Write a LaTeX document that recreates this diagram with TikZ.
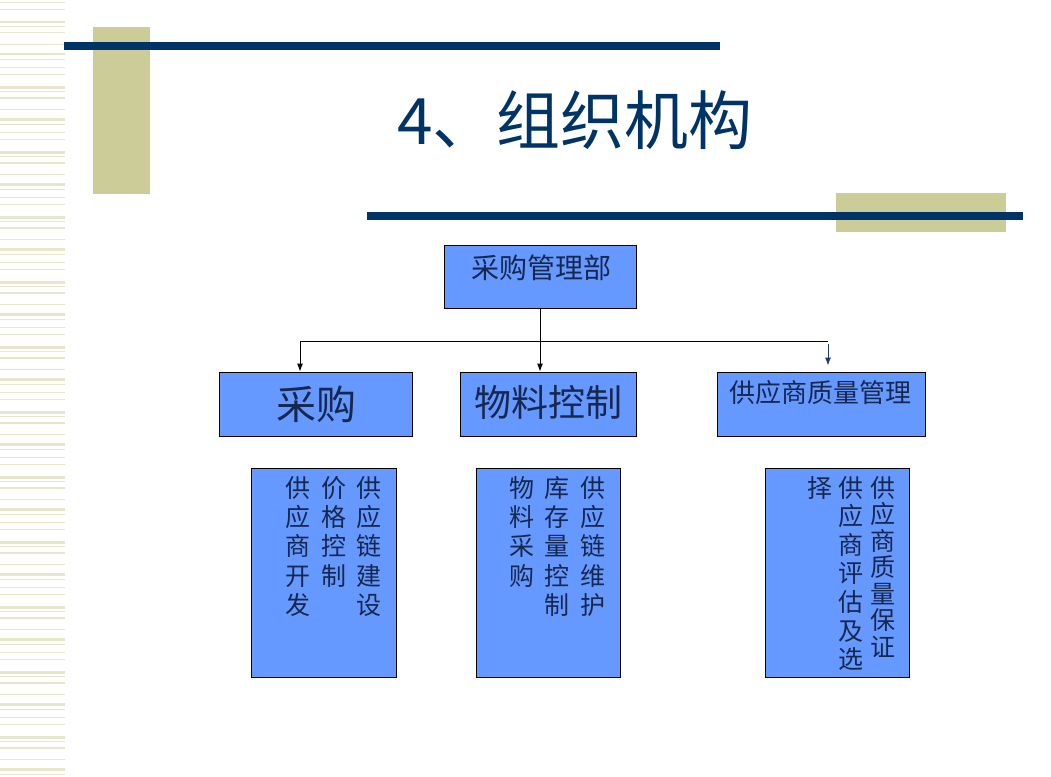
\documentclass[tikz,border=0pt]{standalone}
\usepackage{fontspec}
\usetikzlibrary{arrows.meta}
\usetikzlibrary{positioning}
\newfontfamily\cjk{Noto Sans CJK SC}
\definecolor{navy}{RGB}{0,51,102}
\definecolor{khaki}{RGB}{204,204,153}
\definecolor{stripe}{RGB}{230,230,204}
\definecolor{boxblue}{RGB}{102,153,255}
\definecolor{inkblue}{RGB}{22,40,80}
\definecolor{tipblue}{RGB}{30,60,110}
\newcommand{\cjkfont}[1]{\cjk\fontsize{#1}{#1}\selectfont}

\begin{document}
\begin{tikzpicture}[x=1pt,y=-1pt]
    \begin{scope}[>={Latex[length=8pt,width=6pt]}] %for filled arrow tips

      % defines
      \pgfmathsetmacro\SplitYCoord{(341)} % y of the branch line
      \pgfmathsetmacro\MidYCoord{(404)} % y centre of the middle boxes
      \pgfmathsetmacro\ColYCoord{(476)} % y top of the text columns

      \tikzset{
        orgbox/.style={draw=black,fill=boxblue,rectangle,line width=0.9pt,inner sep=0pt},
        boxtext/.style={text=inkblue,inner sep=0pt},
        vcol/.style={font=\cjk\fontsize{25}{29.3}\selectfont,text=inkblue,align=center,anchor=north,inner sep=0pt}
      }

      \useasboundingbox (0,0) rectangle (1051,776);

      % striped band on the left
      \foreach \blk in {0,...,11}
        \foreach \off/\w in {2/1,9/1.2,21/2.5,26/1,32/1.5,44/1,53/2.5,59/1.2}
          \fill[stripe] (0,{\blk*65+\off}) rectangle (65,{\blk*65+\off+\w});

      % title decoration
      \fill[khaki] (93,27) rectangle (150,194);
      \fill[navy] (64,42) rectangle (720,50);
      \fill[khaki] (836,193) rectangle (1006,232);
      \fill[navy] (367,212) rectangle (1023,220);
      \node (title) at (575,120) [text=navy,inner sep=0pt,font=\cjkfont{64}] {4、组织机构};

      % draw top box
      \node (top) at (540,276.5) [orgbox,minimum width=192pt,minimum height=63pt] {};
      \node (toptxt) at (541,268) [boxtext,font=\cjkfont{28}] {采购管理部};

      % draw middle boxes
      \node (cg) at (315.5,\MidYCoord) [orgbox,minimum width=193pt,minimum height=64pt] {};
      \node (cgtxt) at (316,\MidYCoord) [boxtext,font=\cjkfont{40}] {采购};
      \node (wl) at (548,\MidYCoord) [orgbox,minimum width=176pt,minimum height=64pt] {};
      \node (wltxt) at (548,402) [boxtext,font=\cjkfont{37}] {物料控制};
      \node (gy) at (821,\MidYCoord) [orgbox,minimum width=208pt,minimum height=64pt] {};
      \node (gytxt) at (820.5,393) [boxtext,font=\cjkfont{26}] {供应商质量管理};

      % connection lines
      \coordinate (split) at (540,\SplitYCoord);
      \coordinate (splitL) at (300,\SplitYCoord);
      \coordinate (splitR) at (828,\SplitYCoord);
      \coordinate (tipR) at (828,344);
      \draw[line width=0.9pt] (top.south) -- (split);
      \draw[line width=0.9pt] (splitL) -- (splitR);
      \draw[->,line width=0.9pt] (splitL) -- (splitL |- cg.north);
      \draw[->,line width=0.9pt] (split) -- (split |- wl.north);
      \draw[->,line width=0.9pt,tipblue,shorten >=6pt] (tipR) -- (tipR |- gy.north);

      % draw lower boxes
      \node (cgsub) at (323.5,572.5) [orgbox,minimum width=145pt,minimum height=209pt] {};
      \node (wlsub) at (548,572.5) [orgbox,minimum width=144pt,minimum height=209pt] {};
      \node (gysub) at (837,572.5) [orgbox,minimum width=144pt,minimum height=209pt] {};

      % vertical text, right column first
      \node (cgA) at (369,\ColYCoord) [vcol] {供\\应\\链\\建\\设};
      \node (cgB) at (334,\ColYCoord) [vcol] {价\\格\\控\\制};
      \node (cgC) at (298,\ColYCoord) [vcol] {供\\应\\商\\开\\发};

      \node (wlA) at (593,\ColYCoord) [vcol] {供\\应\\链\\维\\护};
      \node (wlB) at (557,\ColYCoord) [vcol] {库\\存\\量\\控\\制};
      \node (wlC) at (522,\ColYCoord) [vcol] {物\\料\\采\\购};

      \node (gyA) at (883,\ColYCoord) [vcol,font=\cjk\fontsize{25}{26.5}\selectfont] {供\\应\\商\\质\\量\\保\\证};
      \node (gyB) at (851,\ColYCoord) [vcol,font=\cjk\fontsize{25}{28.6}\selectfont] {供\\应\\商\\评\\估\\及\\选};
      \node (gyC) at (820,\ColYCoord) [vcol] {择};

    \end{scope}
  \end{tikzpicture}
\end{document}
